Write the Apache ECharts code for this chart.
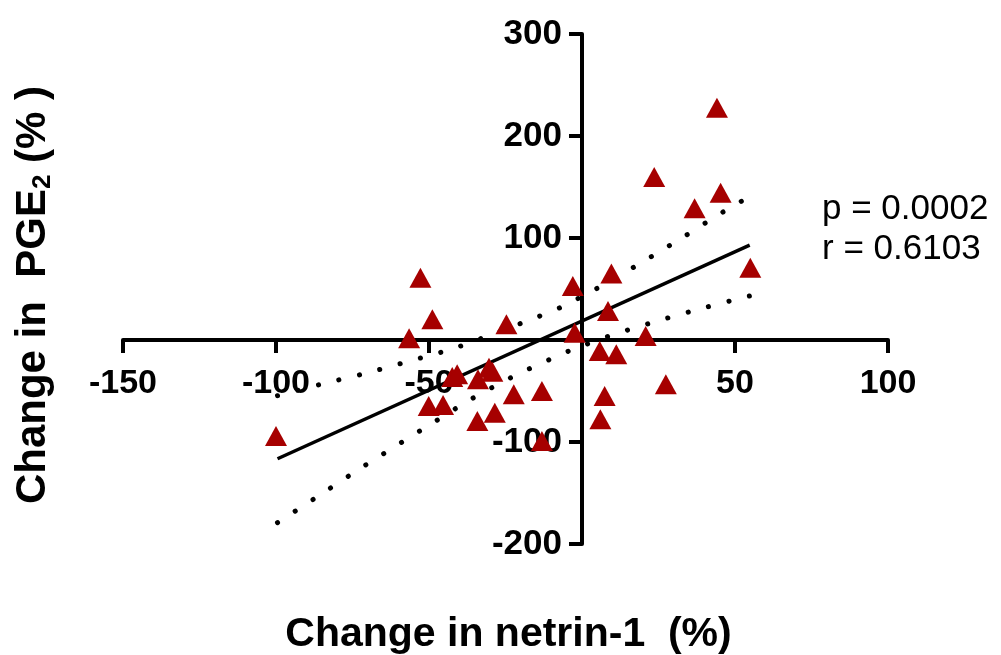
<!DOCTYPE html>
<html>
<head>
<meta charset="utf-8">
<script src="https://cdn.jsdelivr.net/npm/echarts@6/dist/echarts.min.js"></script>
<style>
html,body{margin:0;padding:0;background:#fff;}
#chart{width:1001px;height:655px;}
</style>
</head>
<body>
<div id="chart"></div>
<script>
// ---- data ----
const netrinChange = [-100, -52.8, -48.9, -56.5, -50.1, -45.4, -42.4, -40.8, -34, -30.4, -29.3, -34.2, -28.5, -24.7, -22.3, -13.1, -13.1, -3.0, -2.4, 5.8, 11.2, 7.4, 6.0, 8.5, 9.6, 20.8, 23.6, 27.4, 36.8, 44.1, 45.3, 55.0];
const pgeChange    = [-94, 61.1, 20.3, 1.7, -64.7, -63.7, -36.3, -33.6, -38.5, -27.2, -31.1, -79.4, -71.3, 15.4, -53.2, -50, -99, 52.9, 7.2, -10.8, -14, -54.9, -77.7, 28.4, 65.2, 3.9, 159.8, -43.4, 129.1, 227.7, 144.4, 70.9];

const fitX = [-99.5, 54.8];
const fitY = [-116.4, 93.1];

const upperBandX = [-99.5, -85.4, -70.7, -56.3, -41.8, -27.9, -13.8, -6.7, 6.3, 19.4, 32.2, 44.8, 55];
const upperBandY = [-54.6, -43.4, -32.6, -20.6, -8.1, 7.2, 23.5, 32.4, 52.9, 75.8, 99.3, 123.2, 141];
const lowerBandX = [-99.5, -87, -74.6, -62.1, -49.2, -36.7, -23.3, -9.7, -2.9, 11.2, 25.4, 40, 54.7];
const lowerBandY = [-179.1, -154.6, -130.1, -106.2, -82.1, -58.8, -37, -17.9, -9.1, 6.2, 19.3, 31.7, 43.1];

const xTicks = [-150, -100, -50, 0, 50, 100];
const yTicks = [-200, -100, 0, 100, 200, 300];
const statText = ['p = 0.0002', 'r = 0.6103'];
const xTitle = 'Change in netrin-1  (%)';

// ---- build ----
const zip = (a, b) => a.map((v, i) => [v, b[i]]);
const FONT = '"Liberation Sans", Arial, Helvetica, sans-serif';

const W = 1001, H = 655;
const G = {left: 123, right: 113, top: 34, bottom: 111};
const gw = W - G.left - G.right, gh = H - G.top - G.bottom;
const xMin = xTicks[0], xMax = xTicks[xTicks.length - 1];
const yMin = yTicks[0], yMax = yTicks[yTicks.length - 1];
// shift axes so that they cross at zero (axis lines, ticks, labels and names move together)
const yAxisShift = -gw * (0 - xMin) / (xMax - xMin);
const xAxisShift = -gh * (0 - yMin) / (yMax - yMin);

const chart = echarts.init(document.getElementById('chart'), null, {renderer: 'canvas'});
chart.setOption({
  animation: false,
  backgroundColor: '#ffffff',
  grid: Object.assign({containLabel: false, outerBoundsMode: 'none'}, G),
  xAxis: {
    type: 'value',
    min: xMin, max: xMax, interval: 50,
    position: 'bottom',
    offset: xAxisShift,
    axisLine: {show: true, onZero: false, lineStyle: {color: '#000', width: 4}},
    axisTick: {show: true, length: 13, lineStyle: {color: '#000', width: 4}},
    splitLine: {show: false},
    axisLabel: {
      color: '#000', fontFamily: FONT, fontWeight: 'bold', fontSize: 34, margin: 27,
      formatter: v => (v === 0 ? '' : String(v))
    },
    name: xTitle,
    nameLocation: 'middle',
    nameGap: 274,
    nameTextStyle: {color: '#000', fontFamily: FONT, fontWeight: 'bold', fontSize: 41, padding: [0, 0, 0, 6]}
  },
  yAxis: {
    type: 'value',
    min: yMin, max: yMax, interval: 100,
    position: 'left',
    offset: yAxisShift,
    axisLine: {show: true, onZero: false, lineStyle: {color: '#000', width: 4}},
    axisTick: {show: true, length: 13, lineStyle: {color: '#000', width: 4}},
    splitLine: {show: false},
    axisLabel: {
      color: '#000', fontFamily: FONT, fontWeight: 'bold', fontSize: 35, margin: 20,
      formatter: v => (v === 0 ? '' : String(v))
    },
    name: '{b|Change in  PGE}{s|2}{b| (% )}',
    nameLocation: 'middle',
    nameRotate: 90,
    nameGap: 526,
    nameTextStyle: {
      color: '#000',
      padding: [0, 12, 0, 0],
      rich: {
        b: {fontFamily: FONT, fontWeight: 'bold', fontSize: 42, lineHeight: 46, color: '#000'},
        s: {fontFamily: FONT, fontWeight: 'bold', fontSize: 26, lineHeight: 24, verticalAlign: 'bottom', color: '#000'}
      }
    }
  },
  graphic: [{
    type: 'text',
    left: 822,
    top: 189,
    z: 10,
    style: {
      text: statText.join('\n'),
      font: '35px ' + FONT,
      lineHeight: 40,
      fill: '#000'
    }
  }],
  series: [
    {
      type: 'line', data: zip(upperBandX, upperBandY), smooth: 0.3,
      symbol: 'none', z: 3,
      lineStyle: {color: '#000', width: 5, type: [0.1, 21], cap: 'round'}
    },
    {
      type: 'line', data: zip(lowerBandX, lowerBandY), smooth: 0.3,
      symbol: 'none', z: 3,
      lineStyle: {color: '#000', width: 5, type: [0.1, 21], cap: 'round'}
    },
    {
      type: 'line', data: zip(fitX, fitY),
      symbol: 'none', z: 4,
      lineStyle: {color: '#000', width: 3.5}
    },
    {
      type: 'scatter', data: zip(netrinChange, pgeChange),
      symbol: 'triangle', symbolSize: [22, 20], z: 5,
      itemStyle: {color: '#A60000', opacity: 1}
    }
  ]
});
</script>
</body>
</html>
